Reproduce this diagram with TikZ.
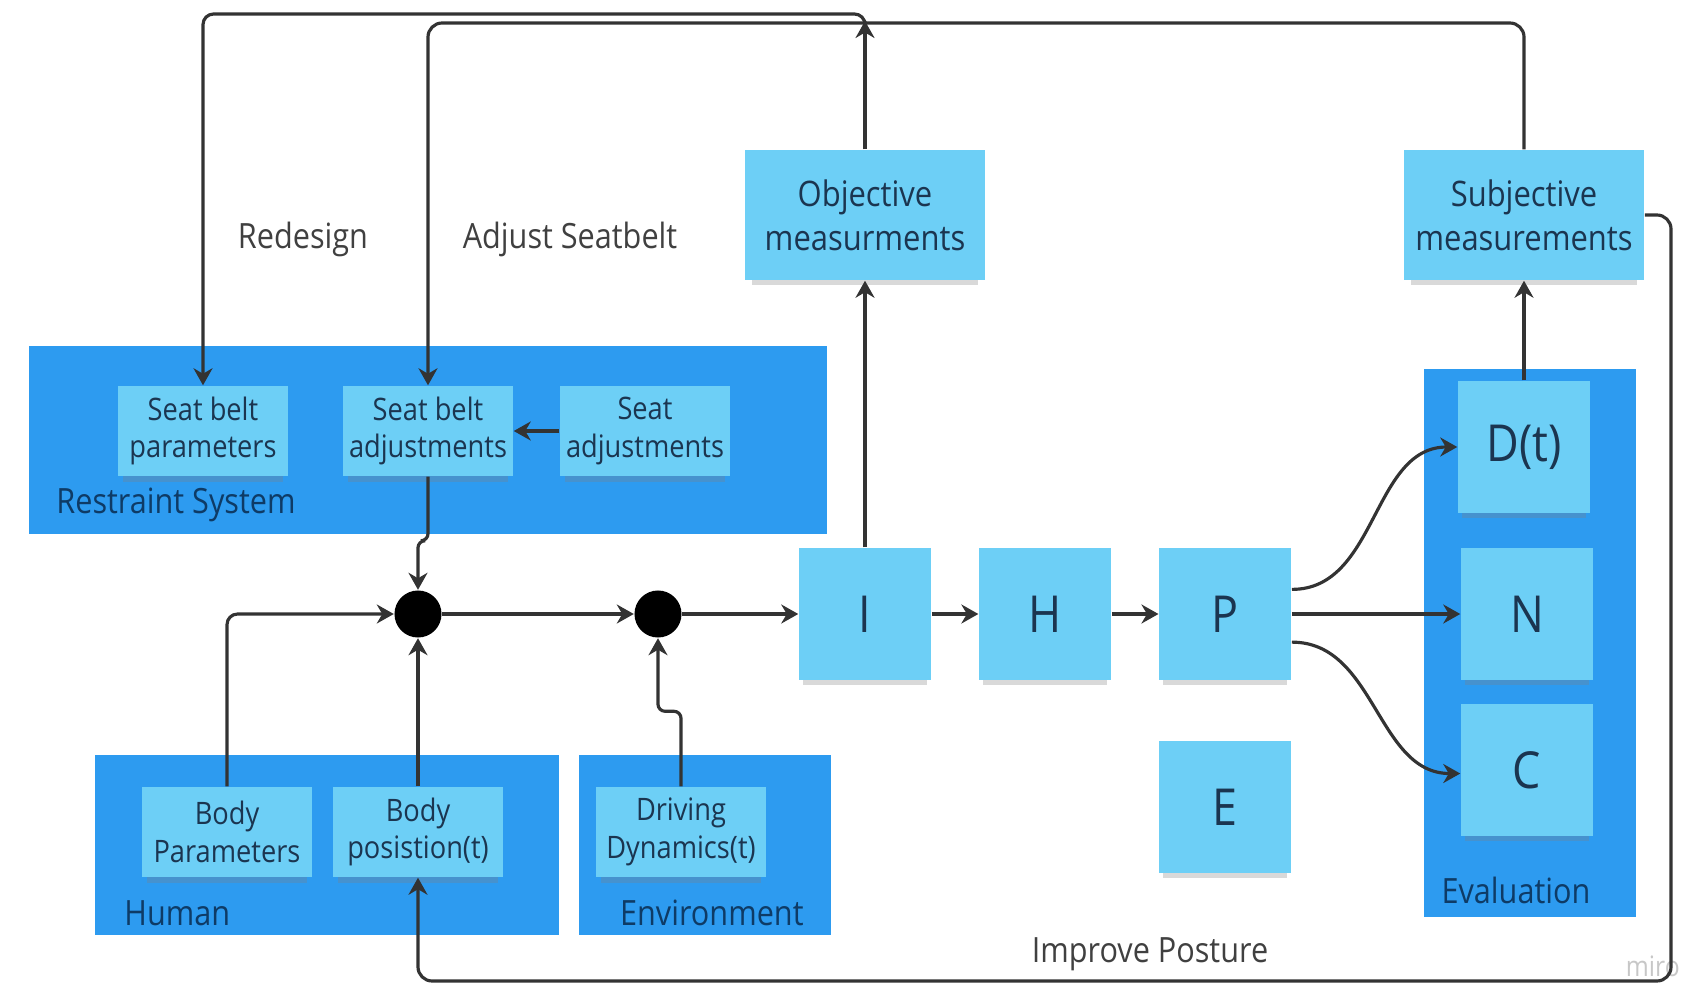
\documentclass[tikz,border=0pt]{standalone}
\usepackage{fontspec}
\setmainfont{Open Sans}[FakeStretch=0.88]
\usepackage{tikz}
\usetikzlibrary{arrows.meta}
\usetikzlibrary{positioning,shadows}

\definecolor{frameBlue}{HTML}{2D9BF0}
\definecolor{noteBlue}{HTML}{6DCFF6}
\definecolor{noteText}{HTML}{1B3550}
\definecolor{frameText}{HTML}{0E3B66}
\definecolor{lineGray}{HTML}{333333}

\tikzset{%
  >={Stealth[width=1.9mm,length=1.7mm]},
  % Specifications for style of nodes:
         frame/.style = {rectangle, fill=frameBlue, inner sep=0pt},
          note/.style = {rectangle, fill=noteBlue, text=noteText, align=center,
                         inner sep=0pt, minimum width=1.7cm, minimum height=0.9cm,
                         font=\fontsize{8.8}{10.7}\selectfont,
                         drop shadow={shadow xshift=0pt, shadow yshift=-2.6pt,
                                      shadow scale=0.94, opacity=.3}},
       measure/.style = {note, minimum width=2.4cm, minimum height=1.3cm,
                         font=\fontsize{10}{12.6}\selectfont},
        letter/.style = {note, minimum width=1.32cm, minimum height=1.32cm,
                         font=\fontsize{14.5}{17}\selectfont},
    frameLabel/.style = {text=frameText, font=\fontsize{9.9}{12}\selectfont},
     lineLabel/.style = {text=black!75, font=\fontsize{9.9}{12}\selectfont},
      junction/.style = {circle, fill=black, minimum size=4.7mm, inner sep=0pt},
          conn/.style = {->, draw=lineGray, line width=0.9pt},
}

\begin{document}
\begin{tikzpicture}[x=0.01cm, y=-0.01cm, node distance=1.8cm]
\useasboundingbox (0,0) rectangle (1685,985);

% frames
\node (RS)   [frame, minimum width=7.98cm, minimum height=1.87cm] at (428,440) {};
\node (HU)   [frame, minimum width=4.64cm, minimum height=1.80cm] at (327,845) {};
\node (EN)   [frame, minimum width=2.52cm, minimum height=1.80cm] at (705,845) {};
\node (EV)   [frame, minimum width=2.12cm, minimum height=5.48cm] at (1530,643) {};

\node (rsLabel)    [frameLabel, anchor=west] at (44,505)   {Restraint System};
\node (huLabel)    [frameLabel, anchor=west] at (112,913)  {Human};
\node (enLabel)    [frameLabel, anchor=east] at (816,913)  {Environment};
\node (evLabel)    [frameLabel]              at (1516,890) {Evaluation};

% notes
\node (SBP)  [note] at (203,431) {Seat belt\\parameters};
\node (SBA)  [note] at (428,431) {Seat belt\\adjustments};
\node (SA)   [note] at (645,431) {Seat\\adjustments};

\node (BPar) [note] at (227,832) {Body\\Parameters};
\node (BPos) [note] at (418,832) {Body\\posistion(t)};
\node (DD)   [note] at (681,832) {Driving\\Dynamics(t)};

\node (Obj)  [measure] at (865,215)  {Objective\\measurments};
\node (Subj) [measure] at (1524,215) {Subjective\\measurements};

\node (I)    [letter] at (865,614) {I};
\node (H)    [letter, right of=I] {H};
\node (P)    [letter, right of=H] {P};
\node (E)    [letter] at (1225,807) {E};

\node (D)    [letter] at (1524,447) {D(t)};
\node (N)    [letter] at (1527,614) {N};
\node (C)    [letter] at (1527,770) {C};

\node (J1)   [junction] at (418,614) {};
\node (J2)   [junction] at (658,614) {};

% texts on the loops
\node (redesign) [lineLabel] at (303,239)  {Redesign};
\node (adjust)   [lineLabel] at (570,239)  {Adjust Seatbelt};
\node (improve)  [lineLabel] at (1150,954) {Improve Posture};
\node (miro)     [text=black!22, font=\fontsize{8}{9}\selectfont, anchor=east,
                  inner sep=1pt] at (1684,966) {miro};

\coordinate (objTip)       at (865,21);
\coordinate (redesignLeft) at (203,14);
\coordinate (adjustLeft)   at (428,23);
\coordinate (postureBot)   at (1671,981);

\draw[conn]                      (SA) -- (SBA);
\draw[conn, rounded corners=2pt] (SBA.south) -- ++(0,64) -| (J1.north);
\draw[conn, rounded corners=3pt] (BPar.north) |- (J1.west);
\draw[conn]                      (BPos.north) -- (J1.south);
\draw[conn]                      (J1) -- (J2);
\draw[conn, rounded corners=2pt] (DD.north) -- ++(0,-75) -| (J2.south);
\draw[conn]                      (J2) -- (I);
\draw[conn]                      (I) -- (H);
\draw[conn]                      (H) -- (P);
\draw[conn]                      (P) -- (N);
\draw[conn] ([yshift=7pt]P.east) to[out=0, in=180] (D.west);
\draw[conn] ([yshift=-8pt]P.east) to[out=0, in=180] ([yshift=-1pt]C.west);
\draw[conn]                      (I.north) -- (Obj.south);
\draw[conn]                      (D.north) -- (Subj.south);

\draw[conn]                      (Obj.north) -- (objTip);
\draw[conn, rounded corners=3pt] (objTip) |- (redesignLeft) -- (SBP.north);
\draw[conn, rounded corners=4pt] (Subj.north) |- (adjustLeft) -- (SBA.north);
\draw[conn, rounded corners=4pt] (Subj.east) -| (postureBot) -| (BPos.south);
\end{tikzpicture}
\end{document}
